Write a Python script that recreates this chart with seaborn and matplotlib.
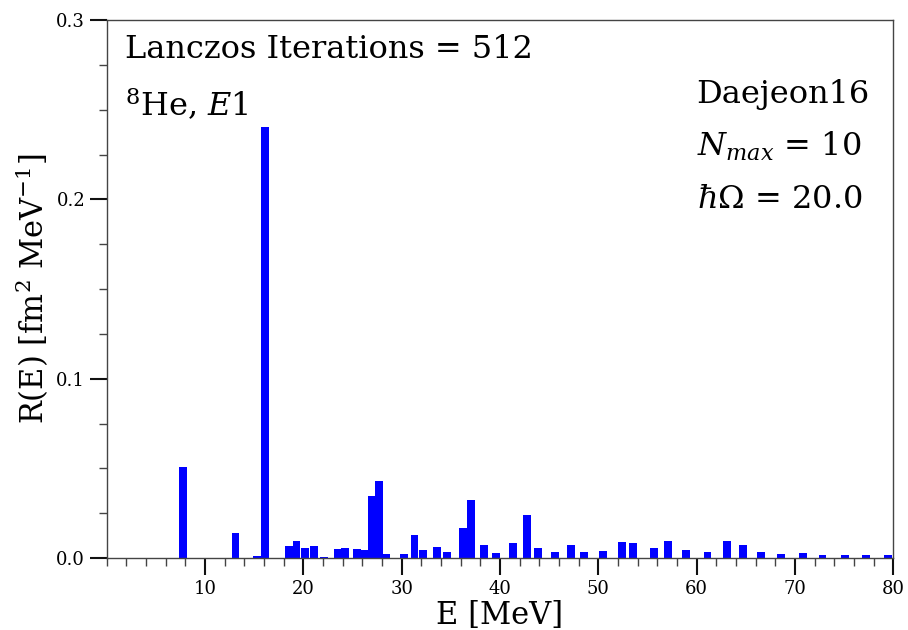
import numpy as np
import pandas as pd
import seaborn as sns
from matplotlib import pyplot as plt
from matplotlib.ticker import MultipleLocator, FormatStrFormatter

# Lanczos strength distribution, 8He E1
energy = [7.76, 13.1, 15.25, 16.08, 18.55, 19.3, 20.2, 21.06, 22.1,
          23.5, 24.23, 25.42, 26.18, 27.0, 27.67, 28.37, 30.26, 31.3,
          32.13, 33.56, 34.58, 36.2, 37.02, 38.4, 39.6, 41.36, 42.74,
          43.84, 45.58, 47.19, 48.55, 50.49, 52.37, 53.5, 55.65, 57.12,
          58.93, 61.1, 63.1, 64.7, 66.53, 68.54, 70.78, 72.8, 75.1,
          77.22, 79.5]
strength = [0.0509, 0.0138, 0.0013, 0.2404, 0.0067, 0.0093, 0.0056, 0.0067, 0.0005,
            0.0048, 0.0056, 0.0052, 0.0043, 0.0348, 0.0431, 0.0024, 0.0024, 0.0126,
            0.0043, 0.0060, 0.0032, 0.0169, 0.0325, 0.0074, 0.0028, 0.0085, 0.0240,
            0.0054, 0.0032, 0.0071, 0.0032, 0.0039, 0.0088, 0.0084, 0.0056, 0.0093,
            0.0043, 0.0035, 0.0093, 0.0071, 0.0035, 0.0020, 0.0028, 0.0015, 0.0015,
            0.0015, 0.0015]

df = pd.DataFrame({'E': energy, 'R': strength})

sns.set_style('ticks')
plt.rcParams['font.family'] = ['DejaVu Serif']
plt.rcParams['mathtext.fontset'] = 'dejavuserif'
plt.rcParams['text.color'] = 'black'
plt.rcParams['axes.labelcolor'] = 'black'
plt.rcParams['xtick.color'] = 'black'
plt.rcParams['ytick.color'] = 'black'

fig = plt.figure(figsize=(9.08, 6.3), dpi=100)
ax = fig.add_axes([0.1175, 0.1143, 0.8663, 0.8537])

# bars 0.8 MeV wide; seaborn scales width by the smallest spacing on a native axis
min_gap = np.min(np.diff(np.sort(df['E'].values)))
sns.barplot(data=df, x='E', y='R', native_scale=True, width=0.8 / min_gap,
            color='#0000ff', saturation=1, errorbar=None, linewidth=0, ax=ax)

ax.set_xlim(0, 80)
ax.set_ylim(0, 0.3)
ax.xaxis.set_major_locator(MultipleLocator(10))
ax.xaxis.set_minor_locator(MultipleLocator(2))
ax.yaxis.set_major_locator(MultipleLocator(0.1))
ax.yaxis.set_minor_locator(MultipleLocator(0.025))
ax.yaxis.set_major_formatter(FormatStrFormatter('%.1f'))
ax.set_xticks(np.arange(10, 81, 10))
ax.tick_params(which='major', length=12, width=1.5, labelsize=13,
               color='#111111', labelcolor='black')
ax.tick_params(which='minor', length=6, width=1, color='#444444')

for side in ['top', 'right', 'left', 'bottom']:
    ax.spines[side].set_color('#444444')
    ax.spines[side].set_linewidth(1)

ax.set_xlabel('E [MeV]', fontsize=22, labelpad=2)
ax.set_ylabel('R(E) [fm$^2$ MeV$^{-1}$]', fontsize=22, labelpad=4)

ax.text(0.023, 0.945, 'Lanczos Iterations = 512', transform=ax.transAxes,
        fontsize=23, va='center', ha='left')
ax.text(0.023, 0.842, '$^{8}$He, $E$1', transform=ax.transAxes,
        fontsize=23, va='center', ha='left')
ax.text(0.75, 0.862, 'Daejeon16', transform=ax.transAxes,
        fontsize=23, va='center', ha='left')
ax.text(0.75, 0.765, '$N_{max}$ = 10', transform=ax.transAxes,
        fontsize=23, va='center', ha='left')
ax.text(0.75, 0.667, '$\\hbar\\Omega$ = 20.0', transform=ax.transAxes,
        fontsize=23, va='center', ha='left')

plt.savefig('out.png', dpi=100)
